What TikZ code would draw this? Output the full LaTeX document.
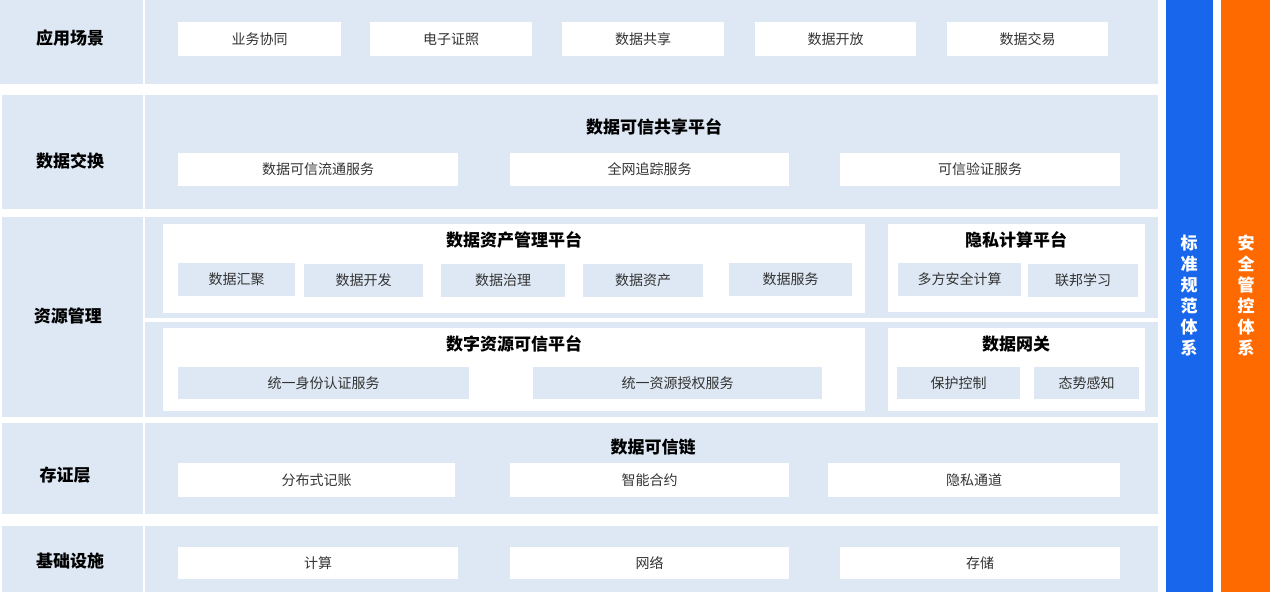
\documentclass[tikz,border=0pt]{standalone}
\usepackage{fontspec}
\newfontfamily\cjk{Noto Sans CJK SC}
\setmainfont{Noto Sans CJK SC}
\definecolor{lb}{HTML}{DDE8F4}
\definecolor{barblue}{HTML}{1766EB}
\definecolor{barorange}{HTML}{FF6A00}
\definecolor{txt}{HTML}{333333}
\begin{document}
\begin{tikzpicture}[x=1pt,y=-1pt,
  box/.style={anchor=north west,inner sep=0pt,outer sep=0pt,draw=none},
  bg/.style={box,fill=lb},
  label/.style={font=\cjk\bfseries\fontsize{17}{17}\selectfont,text=black,inner sep=0pt},
  wpanel/.style={box,fill=white},
  wsub/.style={box,fill=white,font=\cjk\fontsize{14}{14}\selectfont,text=txt},
  bsub/.style={box,fill=lb,font=\cjk\fontsize{14}{14}\selectfont,text=txt},
  ttl/.style={font=\cjk\bfseries\fontsize{17}{17}\selectfont,text=black,inner sep=0pt},
  bar/.style={box,font=\cjk\bfseries\fontsize{17}{21}\selectfont,text=white,align=center}
]
\useasboundingbox[fill=white] (0,0) rectangle (1270,592);
% Row 1
\node[bg,minimum width=143,minimum height=84] (l1) at (0,0) {};
\node[label] (l1t) at (70,38) {应用场景};
\node[bg,minimum width=1013,minimum height=84] (r1) at (145,0) {};
\node[wsub,minimum width=163,minimum height=34] (a1) at (178,22) {业务协同};
\node[wsub,minimum width=162,minimum height=34] (a2) at (370,22) {电子证照};
\node[wsub,minimum width=162,minimum height=34] (a3) at (562,22) {数据共享};
\node[wsub,minimum width=161,minimum height=34] (a4) at (755,22) {数据开放};
\node[wsub,minimum width=161,minimum height=34] (a5) at (947,22) {数据交易};
% Row 2
\node[bg,minimum width=141,minimum height=114] (l2) at (2,95) {};
\node[label] (l2t) at (70,161) {数据交换};
\node[bg,minimum width=1013,minimum height=114] (r2) at (145,95) {};
\node[ttl] (t2) at (654,127) {数据可信共享平台};
\node[wsub,minimum width=280,minimum height=33] (b1) at (178,153) {数据可信流通服务};
\node[wsub,minimum width=279,minimum height=33] (b2) at (510,153) {全网追踪服务};
\node[wsub,minimum width=280,minimum height=33] (b3) at (840,153) {可信验证服务};
% Row 3
\node[bg,minimum width=141,minimum height=200] (l3) at (2,217) {};
\node[label] (l3t) at (68,316) {资源管理};
\node[bg,minimum width=1013,minimum height=101] (r3a) at (145,217) {};
\node[bg,minimum width=1013,minimum height=95] (r3b) at (145,322) {};
\node[wpanel,minimum width=702,minimum height=89] (p1) at (163,224) {};
\node[wpanel,minimum width=257,minimum height=88] (p2) at (888,224) {};
\node[ttl] (t31) at (514,240) {数据资产管理平台};
\node[ttl] (t32) at (1016,240) {隐私计算平台};
\node[bsub,minimum width=117,minimum height=33] (c1) at (178,263) {数据汇聚};
\node[bsub,minimum width=119,minimum height=33] (c2) at (304,264) {数据开发};
\node[bsub,minimum width=124,minimum height=33] (c3) at (441,264) {数据治理};
\node[bsub,minimum width=120,minimum height=33] (c4) at (583,264) {数据资产};
\node[bsub,minimum width=123,minimum height=33] (c5) at (729,263) {数据服务};
\node[bsub,minimum width=123,minimum height=33] (c6) at (898,263) {多方安全计算};
\node[bsub,minimum width=110,minimum height=33] (c7) at (1028,264) {联邦学习};
\node[wpanel,minimum width=702,minimum height=83] (p3) at (163,328) {};
\node[wpanel,minimum width=257,minimum height=83] (p4) at (888,328) {};
\node[ttl] (t33) at (514,344) {数字资源可信平台};
\node[ttl] (t34) at (1016,344) {数据网关};
\node[bsub,minimum width=291,minimum height=32] (d1) at (178,367) {统一身份认证服务};
\node[bsub,minimum width=289,minimum height=32] (d2) at (533,367) {统一资源授权服务};
\node[bsub,minimum width=123,minimum height=32] (d3) at (897,367) {保护控制};
\node[bsub,minimum width=105,minimum height=32] (d4) at (1034,367) {态势感知};
% Row 4
\node[bg,minimum width=141,minimum height=91] (l4) at (2,423) {};
\node[label] (l4t) at (65,475) {存证层};
\node[bg,minimum width=1013,minimum height=91] (r4) at (145,423) {};
\node[ttl] (t4) at (653,447) {数据可信链};
\node[wsub,minimum width=277,minimum height=34] (e1) at (178,463) {分布式记账};
\node[wsub,minimum width=279,minimum height=34] (e2) at (510,463) {智能合约};
\node[wsub,minimum width=292,minimum height=34] (e3) at (828,463) {隐私通道};
% Row 5
\node[bg,minimum width=141,minimum height=66] (l5) at (2,526) {};
\node[label] (l5t) at (70,561) {基础设施};
\node[bg,minimum width=1013,minimum height=66] (r5) at (145,526) {};
\node[wsub,minimum width=280,minimum height=32] (f1) at (178,547) {计算};
\node[wsub,minimum width=279,minimum height=32] (f2) at (510,547) {网络};
\node[wsub,minimum width=280,minimum height=32] (f3) at (840,547) {存储};
% Bars
\node[box,fill=barblue,minimum width=47,minimum height=592] (g1) at (1166,0) {};
\node[box,fill=barorange,minimum width=49,minimum height=592] (g2) at (1221,0) {};
\node[bar,anchor=center] (g1t) at (1189,296) {标\\准\\规\\范\\体\\系};
\node[bar,anchor=center] (g2t) at (1246,296) {安\\全\\管\\控\\体\\系};
\end{tikzpicture}
\end{document}
